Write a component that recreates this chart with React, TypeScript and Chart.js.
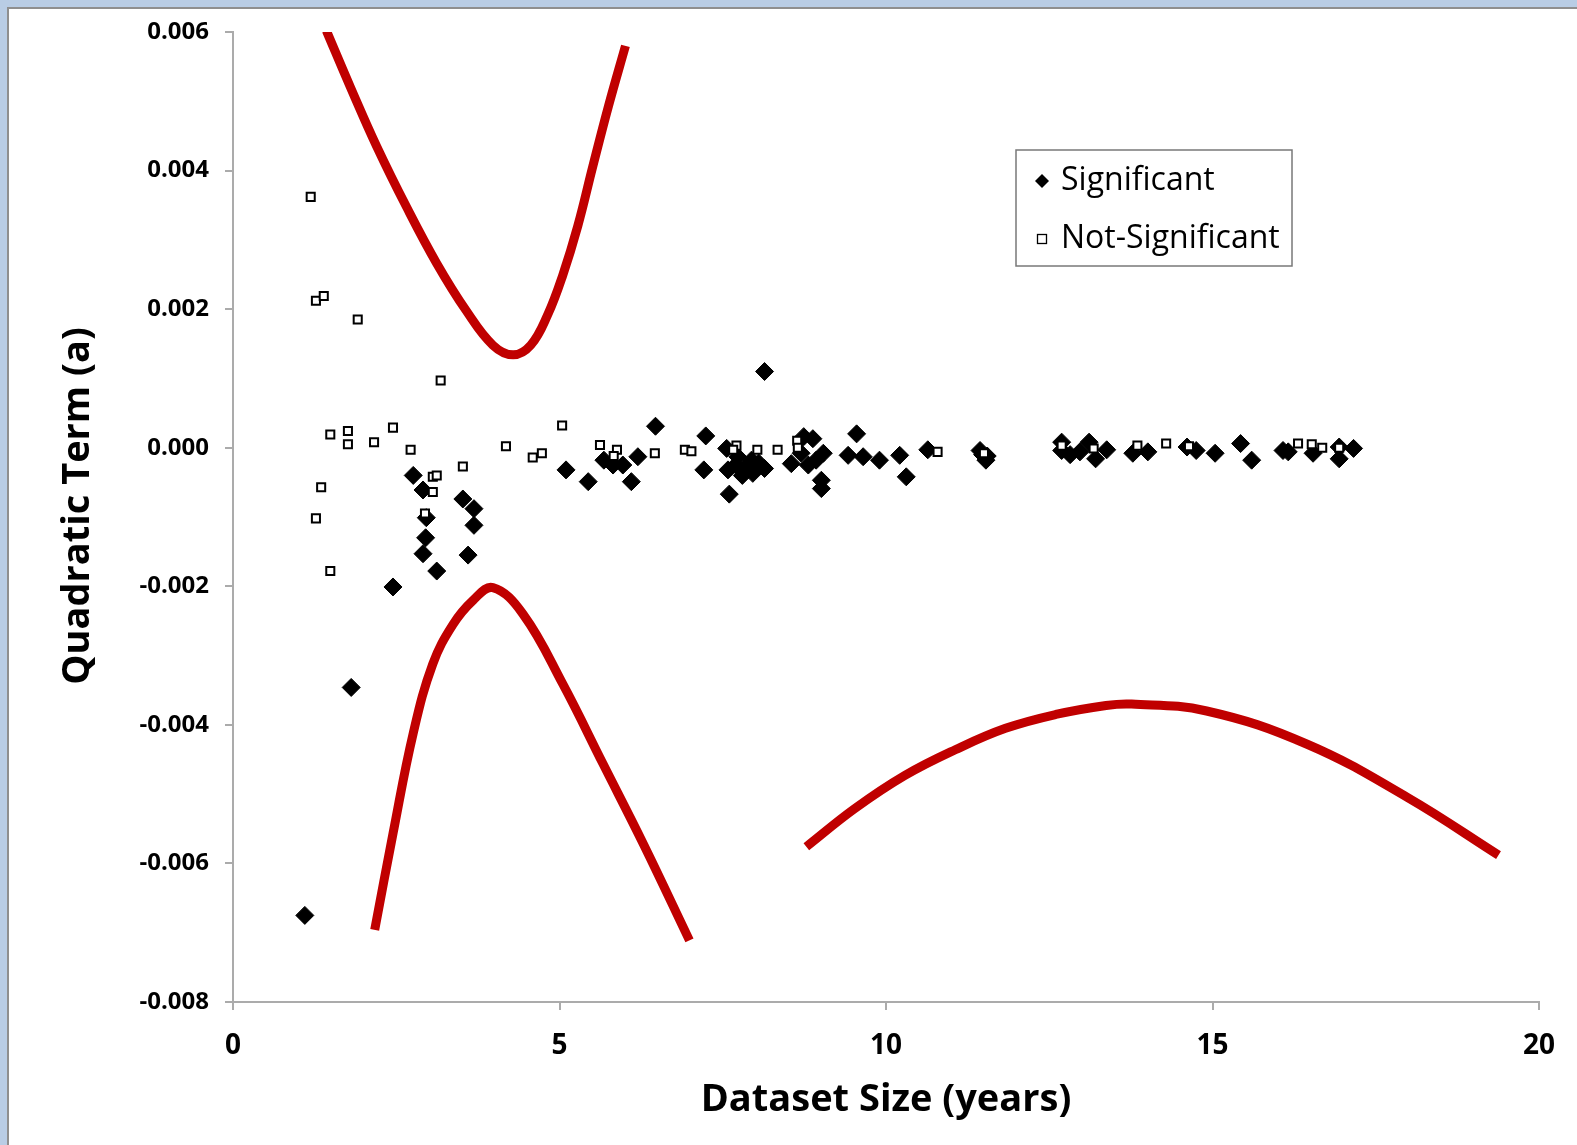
import React, { useEffect, useRef } from "react";
import { Chart, registerables } from "chart.js";

Chart.register(...registerables);

// ---------- data ----------
const sigX = [2.76, 2.91, 2.96, 2.95, 2.91, 3.12, 2.45, 3.52, 3.69, 3.69, 3.6, 1.81, 1.1, 5.1, 5.44, 5.68, 5.82, 5.97, 6.2, 6.1, 6.47, 7.24, 7.21, 7.56, 7.58, 7.6, 7.73, 7.94, 7.96, 8.14, 8.14, 8.55, 8.74, 8.88, 8.81, 9.04, 9.01, 9.01, 9.55, 9.42, 9.65, 9.9, 10.21, 10.31, 10.64, 11.44, 11.53, 12.69, 12.69, 12.97, 13.11, 13.21, 13.38, 13.78, 14.01, 14.61, 14.75, 15.04, 15.43, 15.6, 16.08, 16.16, 16.54, 16.94, 16.94, 17.16, 7.7, 7.85, 8.05, 7.8, 8.93, 8.7, 11.48, 11.55, 12.82];
const sigY = [-0.0004, -0.00061, -0.00101, -0.0013, -0.00153, -0.00178, -0.00201, -0.00074, -0.00088, -0.00112, -0.00155, -0.00346, -0.00675, -0.00032, -0.00049, -0.00018, -0.00025, -0.00025, -0.00013, -0.00049, 0.00031, 0.00017, -0.00032, -0.00001, -0.00032, -0.00067, -0.00013, -0.00018, -0.00037, -0.0003, 0.0011, -0.00023, 0.00016, 0.00013, -0.00025, -0.00008, -0.00047, -0.00059, 0.0002, -0.00011, -0.00013, -0.00018, -0.00011, -0.00042, -0.00003, -0.00004, -0.00018, 0.00008, -0.00004, -0.00006, 0.00008, -0.00016, -0.00003, -0.00008, -0.00006, 0.00001, -0.00004, -0.00008, 0.00006, -0.00018, -0.00004, -0.00006, -0.00008, 0.00001, -0.00016, -0.00001, -0.00025, -0.00028, -0.00022, -0.0004, -0.00018, -0.00008, -0.0001, -0.00012, -0.0001];

const nsX = [1.19, 1.27, 1.39, 1.91, 3.18, 1.49, 1.76, 1.76, 2.16, 2.45, 2.72, 4.18, 1.35, 1.27, 1.49, 3.06, 3.12, 3.06, 2.94, 3.52, 4.59, 4.73, 5.04, 5.62, 5.88, 5.83, 6.46, 6.92, 7.02, 7.71, 8.03, 8.34, 8.64, 8.65, 10.79, 11.5, 12.69, 13.18, 13.85, 14.29, 14.64, 16.31, 16.52, 16.68, 16.94, 7.66];
const nsY = [0.00362, 0.00212, 0.00219, 0.00185, 0.00097, 0.00019, 0.00024, 0.00005, 0.00008, 0.00029, -0.00003, 0.00002, -0.00057, -0.00102, -0.00178, -0.00042, -0.0004, -0.00064, -0.00095, -0.00027, -0.00014, -0.00008, 0.00032, 0.00004, -0.00003, -0.00012, -0.00008, -0.00003, -0.00005, 0.00003, -0.00003, -0.00003, 0.0001, 0.0, -0.00006, -0.00008, 0.00003, -0.00001, 0.00003, 0.00006, 0.00002, 0.00006, 0.00005, 0.0, 0.0, -0.00003];

const upperX = [1.43, 1.8, 2.2, 2.66, 3.12, 3.57, 3.98, 4.29, 4.56, 4.82, 5.05, 5.28, 5.51, 5.75, 6.01];
const upperY = [0.00602, 0.0052, 0.00435, 0.00347, 0.00266, 0.00198, 0.00148, 0.00134, 0.00148, 0.00192, 0.00249, 0.0032, 0.00406, 0.00493, 0.0058];

const lowerX = [2.17, 2.45, 2.76, 3.06, 3.37, 3.68, 3.98, 4.44, 5.05, 5.67, 6.29, 6.99];
const lowerY = [-0.00696, -0.00557, -0.00412, -0.00312, -0.00255, -0.0022, -0.00202, -0.0024, -0.00341, -0.00457, -0.00573, -0.00711];

const wideX = [8.78, 9.52, 10.29, 11.06, 11.83, 12.6, 13.37, 13.76, 14.91, 16.45, 17.99, 19.38];
const wideY = [-0.00576, -0.00521, -0.00473, -0.00436, -0.00405, -0.00385, -0.00372, -0.0037, -0.0038, -0.00428, -0.00505, -0.00588];

const xTitle = "Dataset Size (years)";
const yTitle = "Quadratic Term (a)";
const legendLabels = ["Significant", "Not-Significant"];

const xMin = 0, xMax = 20, xStep = 5;
const yMin = -0.008, yMax = 0.006, yStep = 0.002;

const zip = (xs: number[], ys: number[]) => xs.map((x, i) => ({ x, y: ys[i] }));

const FONT = "'Open Sans', 'Noto Sans', sans-serif";
const RED = "#c00000";
const AXIS = "#ababab";

const overlayPlugin = {
  id: "overlay",
  afterDraw(chart: any) {
    const ctx = chart.ctx as CanvasRenderingContext2D;
    const { left, right, top, bottom } = chart.chartArea;
    ctx.save();
    ctx.fillStyle = "#000";
    ctx.textAlign = "center";
    ctx.textBaseline = "middle";
    ctx.font = `bold 38px ${FONT}`;
    // x title
    ctx.fillText(xTitle, (left + right) / 2, bottom + 98);
    // y title
    ctx.save();
    ctx.translate(left - 155, (top + bottom) / 2 - 11);
    ctx.rotate(-Math.PI / 2);
    ctx.fillText(yTitle, 0, 0);
    ctx.restore();

    // legend
    const bx = left + 783, by = top + 118, bw = 276, bh = 116;
    ctx.fillStyle = "#fff";
    ctx.fillRect(bx, by, bw, bh);
    ctx.strokeStyle = "#787878";
    ctx.lineWidth = 1.5;
    ctx.strokeRect(bx, by, bw, bh);

    const mx = bx + 26;
    const r1y = by + 31, r2y = by + 89;
    // diamond
    ctx.fillStyle = "#000";
    ctx.beginPath();
    ctx.moveTo(mx, r1y - 7);
    ctx.lineTo(mx + 7, r1y);
    ctx.lineTo(mx, r1y + 7);
    ctx.lineTo(mx - 7, r1y);
    ctx.closePath();
    ctx.fill();
    // square
    ctx.fillStyle = "#fff";
    ctx.strokeStyle = "#000";
    ctx.lineWidth = 1.3;
    ctx.fillRect(mx - 4.5, r2y - 4.5, 9, 9);
    ctx.strokeRect(mx - 4.5, r2y - 4.5, 9, 9);

    ctx.fillStyle = "#000";
    ctx.textAlign = "left";
    ctx.font = `32px ${FONT}`;
    ctx.fillText(legendLabels[0], bx + 45, r1y);
    ctx.fillText(legendLabels[1], bx + 45, r2y);
    ctx.restore();
  },
};

export default function App() {
  const ref = useRef<HTMLCanvasElement | null>(null);

  useEffect(() => {
    if (!ref.current) return;
    const curve = (label: string, xs: number[], ys: number[]) => ({
      label,
      data: zip(xs, ys),
      showLine: true,
      pointRadius: 0,
      borderColor: RED,
      borderWidth: 9,
      tension: 0.4,
      order: 2,
    });
    const chart = new Chart(ref.current, {
      type: "scatter",
      data: {
        datasets: [
          {
            label: legendLabels[1],
            data: zip(nsX, nsY),
            pointStyle: "rect",
            pointRadius: 5.7,
            backgroundColor: "#fff",
            borderColor: "#000",
            borderWidth: 2,
            order: 0,
          },
          {
            label: legendLabels[0],
            data: zip(sigX, sigY),
            pointStyle: "rectRot",
            pointRadius: 9,
            backgroundColor: "#000",
            borderColor: "#000",
            borderWidth: 1,
            order: 1,
          },
          curve("bound1", upperX, upperY),
          curve("bound2", lowerX, lowerY),
          curve("bound3", wideX, wideY),
        ] as any,
      },
      options: {
        animation: false,
        responsive: false,
        devicePixelRatio: 1,
        events: [],
        layout: { padding: { top: 32, right: 38, left: 0, bottom: 0 } },
        plugins: { legend: { display: false }, tooltip: { enabled: false } },
        scales: {
          x: {
            type: "linear",
            min: xMin,
            max: xMax,
            ticks: {
              stepSize: xStep,
              color: "#000",
              font: { family: FONT, size: 28, weight: "bold" },
              padding: 19,
            },
            grid: { drawOnChartArea: false, drawTicks: true, tickLength: 8, color: AXIS, lineWidth: 2 },
            border: { color: AXIS, width: 2 },
            afterFit: (s: any) => {
              s.height = 143;
            },
          },
          y: {
            type: "linear",
            min: yMin,
            max: yMax,
            ticks: {
              stepSize: yStep,
              color: "#000",
              font: { family: FONT, size: 24, weight: "bold" },
              padding: 16,
              callback: (v: any) => (Math.abs(Number(v)) < 1e-9 ? "0.000" : Number(v).toFixed(3)),
            },
            grid: { drawOnChartArea: false, drawTicks: true, tickLength: 8, color: AXIS, lineWidth: 2 },
            border: { color: AXIS, width: 2 },
            afterFit: (s: any) => {
              s.width = 233;
            },
          },
        },
      } as any,
      plugins: [overlayPlugin],
    });
    return () => chart.destroy();
  }, []);

  return (
    <div style={{ position: "fixed", left: 0, top: 0, width: 1577, height: 1145, background: "#b9cde5", overflow: "hidden" }}>
      <div
        style={{
          position: "absolute",
          left: 7,
          top: 7,
          width: 1600,
          height: 1200,
          background: "#fff",
          borderLeft: "2px solid #8f8f8f",
          borderTop: "2px solid #8f8f8f",
        }}
      />
      <canvas ref={ref} width={1577} height={1145} style={{ position: "absolute", left: 0, top: 0, width: 1577, height: 1145 }} />
    </div>
  );
}
